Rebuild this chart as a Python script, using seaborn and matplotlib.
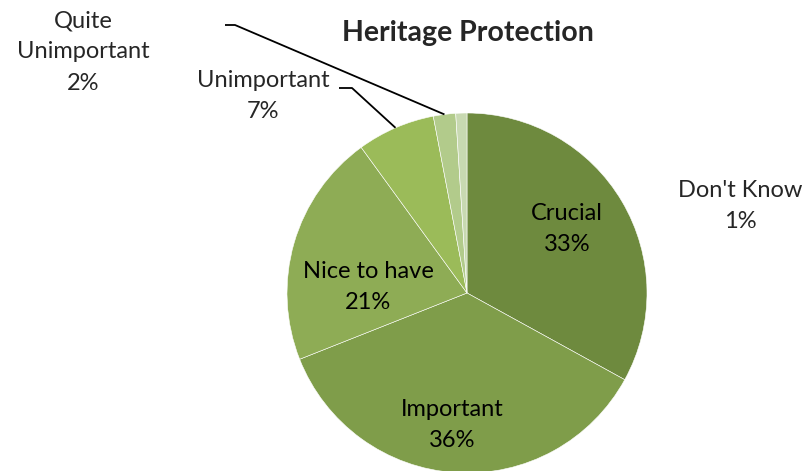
import matplotlib
matplotlib.use("Agg")
import matplotlib.pyplot as plt
import seaborn as sns
import numpy as np

categories = ["Crucial", "Important", "Nice to have", "Unimportant", "Quite\nUnimportant", "Don't Know"]
values = [33, 36, 21, 7, 2, 1]
colors = ["#6E8A3E", "#7F9D4A", "#8EAC55", "#9BBB59", "#B2CB8B", "#C8D9B1"]
title = "Heritage Protection"

sns.set_style("white")
plt.rcParams["font.family"] = ["Lato", "DejaVu Sans"]

W, H = 805, 471
fig = plt.figure(figsize=(W / 100, H / 100), dpi=100)
ax = fig.add_axes([0, 0, 1, 1])

cx, cy, r = 467, H - 293, 180
wedges, _ = ax.pie(values, colors=colors, startangle=90, counterclock=False,
                   center=(cx, cy), radius=r, frame=True,
                   wedgeprops=dict(edgecolor="white", linewidth=0.4))
ax.set_xlim(0, W)
ax.set_ylim(0, H)
ax.set_aspect("equal")
ax.axis("off")

fs = 17
ls = 1.6
# labels inside the larger slices
inside = {0: (567, 229), 1: (452, 425), 2: (368, 287)}
for i, (x, y) in inside.items():
    ax.text(x, H - y, f"{categories[i]}\n{values[i]}%", ha="center", va="center",
            fontsize=fs, linespacing=ls, color="black")

# labels outside with leader lines
def edge_point(w):
    ang = np.deg2rad((w.theta1 + w.theta2) / 2)
    return cx + r * np.cos(ang), cy + r * np.sin(ang)

ax.text(263, H - 96, f"{categories[3]}\n{values[3]}%", ha="center", va="center",
        fontsize=fs, linespacing=ls)
ex, ey = edge_point(wedges[3])
ax.plot([339, 352, ex], [H - 88, H - 88, ey], color="black", lw=1.3, solid_capstyle="butt")

ax.text(83, H - 52, f"{categories[4]}\n{values[4]}%", ha="center", va="center",
        fontsize=fs, linespacing=ls)
ex, ey = edge_point(wedges[4])
ax.plot([225, 235, ex], [H - 25, H - 25, ey], color="black", lw=1.3, solid_capstyle="butt")

ax.text(740, H - 206, f"{categories[5]}\n{values[5]}%", ha="center", va="center",
        fontsize=fs, linespacing=ls)

ax.text(468, H - 33, title, ha="center", va="center", fontsize=20.5, fontweight="bold")

fig.savefig("out.png", dpi=100, facecolor="white")
